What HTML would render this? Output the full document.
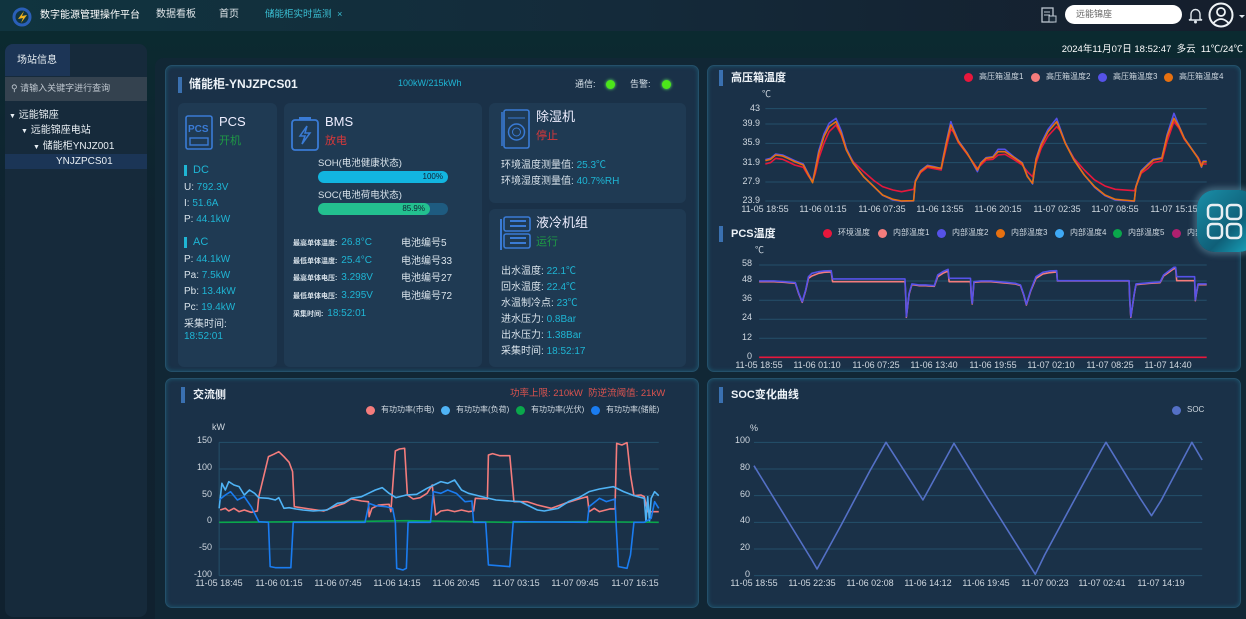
<!DOCTYPE html>
<html><head><meta charset="utf-8">
<style>
*{margin:0;padding:0;box-sizing:border-box}
body{width:1246px;height:619px;overflow:hidden;background:#0d2430;font-family:"Liberation Sans","Noto Sans CJK SC",sans-serif;color:#d8e2ea;font-size:10px;position:relative;line-height:1.1}
.a{position:absolute;white-space:nowrap}
.top{left:0;top:0;width:1246px;height:31px;background:linear-gradient(90deg,#10343f,#142a3a 50%,#151e2c)}
.bg2{left:0;top:31px;width:1246px;height:588px;background:linear-gradient(180deg,#0b2a30,#0f2330 30%,#10212f)}
.panel{background:#1a3148;border:1px solid #24506a;border-radius:7px;box-shadow:0 0 4px #1c5870 inset}
.card{background:#1f3a53;border-radius:6px}
.bar{width:4px;background:#3a70b0}
.t{font-weight:bold;color:#eef3f8;font-size:12px}
.c{color:#1fb5d4}
.dot{width:9px;height:9px;border-radius:50%}
.lg{font-size:8px;color:#cfd8e0}
.ax{font-size:9px;color:#d0d8e0}
.xl{font-size:9px;color:#d0d8e0;width:70px;text-align:center;margin-left:-35px}
</style></head><body>
<div class="a top"></div>
<div class="a bg2"></div>
<!-- top bar -->
<svg class="a" style="left:12px;top:7px" width="22" height="20"><ellipse cx="10" cy="10" rx="8" ry="8" fill="none" stroke="#2a5fb8" stroke-width="3"/><path d="M6 12 L12 4 L10 9 L15 8 L9 16 L11 11Z" fill="#f0b21f"/></svg>
<div class="a" style="left:40px;top:10px;font-size:10px;color:#fff">数字能源管理操作平台</div>
<div class="a" style="left:156px;top:9px;font-size:10px;color:#e0e6ea">数据看板</div>
<div class="a" style="left:219px;top:9px;font-size:10px;color:#e0e6ea">首页</div>
<div class="a" style="left:265px;top:10px;font-size:9.5px;color:#3bc0d4">储能柜实时监测 <span style="font-size:9px;margin-left:3px">×</span></div>
<svg class="a" style="left:1040px;top:6px" width="18" height="18"><rect x="2" y="2" width="11" height="14" fill="none" stroke="#bcc6cf" stroke-width="1.3"/><line x1="4" y1="6" x2="10" y2="6" stroke="#bcc6cf"/><line x1="4" y1="9" x2="10" y2="9" stroke="#bcc6cf"/><rect x="9" y="10" width="7" height="6" fill="#1a2a38" stroke="#bcc6cf"/></svg>
<div class="a" style="left:1065px;top:5px;width:117px;height:19px;background:#fff;border-radius:10px;color:#666;font-size:9px;padding:5px 0 0 11px">远能锦座</div>
<svg class="a" style="left:1187px;top:6px" width="17" height="18"><path d="M4 13 L4 8 A4.5 4.5 0 0 1 13 8 L13 13 L15 14 L2 14Z" fill="none" stroke="#dfe6ec" stroke-width="1.4"/><circle cx="8.5" cy="16" r="1.5" fill="#dfe6ec"/></svg>
<svg class="a" style="left:1208px;top:2px" width="38" height="26"><circle cx="13" cy="13" r="11.5" fill="none" stroke="#eef2f5" stroke-width="2"/><circle cx="13" cy="10" r="4" fill="none" stroke="#eef2f5" stroke-width="1.8"/><path d="M5.5 21 Q13 13 20.5 21" fill="none" stroke="#eef2f5" stroke-width="1.8"/><path d="M31 13 L37 13 L34 16Z" fill="#dfe6ec"/></svg>
<div class="a" style="right:3px;top:45px;font-size:9.5px;color:#fff">2024年11月07日 18:52:47 &nbsp;多云 &nbsp;11℃/24℃</div>

<!-- sidebar -->
<div class="a" style="left:5px;top:44px;width:142px;height:573px;background:#162a3b;border-radius:8px"></div>
<div class="a" style="left:5px;top:44px;width:65px;height:32px;background:#1c3556;border-radius:8px 0 0 0;font-size:10px;color:#e8eef3;padding:11px 0 0 12px">场站信息</div>
<div class="a" style="left:5px;top:77px;width:142px;height:24px;background:#34424f;font-size:9px;color:#c0c8d0;padding:7px 0 0 6px">&#9906; 请输入关键字进行查询</div>
<div class="a" style="left:5px;top:154px;width:142px;height:15px;background:#1b3556"></div>
<div class="a" style="left:9px;top:110px;font-size:10px;color:#e8eef3"><span style="font-size:7px">▼</span> 远能锦座</div>
<div class="a" style="left:21px;top:125px;font-size:10px;color:#e8eef3"><span style="font-size:7px">▼</span> 远能锦座电站</div>
<div class="a" style="left:33px;top:141px;font-size:10px;color:#e8eef3"><span style="font-size:7px">▼</span> 储能柜YNJZ001</div>
<div class="a" style="left:56px;top:156px;font-size:10px;color:#e8eef3">YNJZPCS01</div>

<!-- main container -->
<div class="a" style="left:155px;top:58px;width:1091px;height:561px;background:#112735;border-radius:8px 0 0 0"></div>

<!-- panel 1 -->
<div class="a panel" style="left:165px;top:65px;width:534px;height:307px"></div>
<div class="a bar" style="left:178px;top:77px;height:16px"></div>
<div class="a t" style="left:189px;top:78px">储能柜-YNJZPCS01</div>
<div class="a c" style="left:398px;top:79px;font-size:9px">100kW/215kWh</div>
<div class="a" style="left:575px;top:80px;font-size:9px">通信:</div>
<div class="a dot" style="left:606px;top:80px;background:#4ce61a;box-shadow:0 0 3px #6f6"></div>
<div class="a" style="left:630px;top:80px;font-size:9px">告警:</div>
<div class="a dot" style="left:662px;top:80px;background:#4ce61a;box-shadow:0 0 3px #6f6"></div>

<div class="a card" style="left:178px;top:103px;width:99px;height:264px"></div>
<div class="a card" style="left:284px;top:103px;width:198px;height:264px"></div>
<div class="a card" style="left:489px;top:103px;width:197px;height:100px"></div>
<div class="a card" style="left:489px;top:209px;width:197px;height:158px"></div>

<!-- PCS -->
<svg class="a" style="left:185px;top:115px" width="29" height="36"><rect x="1" y="1" width="26" height="33" rx="2" fill="none" stroke="#3a7bd5" stroke-width="1.6"/><text x="3" y="17" font-size="10" font-weight="bold" fill="#3a7bd5" font-family="Liberation Sans">PCS</text><rect x="5" y="23" width="18" height="7" fill="none" stroke="#3a7bd5" stroke-width="1.4"/></svg>
<div class="a" style="left:219px;top:115px;font-size:13px;color:#eef">PCS</div>
<div class="a" style="left:219px;top:135px;font-size:11px;color:#1f9a45">开机</div>
<div class="a" style="left:184px;top:165px;width:3px;height:11px;background:#1fb5d4"></div>
<div class="a c" style="left:193px;top:164px;font-size:11px">DC</div>
<div class="a" style="left:184px;top:182px">U: <span class="c">792.3V</span></div>
<div class="a" style="left:184px;top:198px">I: <span class="c">51.6A</span></div>
<div class="a" style="left:184px;top:214px">P: <span class="c">44.1kW</span></div>
<div class="a" style="left:184px;top:237px;width:3px;height:11px;background:#1fb5d4"></div>
<div class="a c" style="left:193px;top:236px;font-size:11px">AC</div>
<div class="a" style="left:184px;top:254px">P: <span class="c">44.1kW</span></div>
<div class="a" style="left:184px;top:270px">Pa: <span class="c">7.5kW</span></div>
<div class="a" style="left:184px;top:286px">Pb: <span class="c">13.4kW</span></div>
<div class="a" style="left:184px;top:302px">Pc: <span class="c">19.4kW</span></div>
<div class="a" style="left:184px;top:319px">采集时间:</div>
<div class="a c" style="left:184px;top:331px">18:52:01</div>

<!-- BMS -->
<svg class="a" style="left:290px;top:116px" width="30" height="36"><rect x="2" y="4" width="26" height="30" rx="3" fill="none" stroke="#3a7bd5" stroke-width="1.8"/><rect x="9" y="1" width="12" height="3" fill="#3a7bd5"/><path d="M17 10 L10 20 L15 20 L12 28 L20 17 L15 17Z" fill="none" stroke="#3a7bd5" stroke-width="1.5"/></svg>
<div class="a" style="left:325px;top:115px;font-size:13px;color:#eef">BMS</div>
<div class="a" style="left:325px;top:135px;font-size:11px;color:#d9383a">放电</div>
<div class="a" style="left:318px;top:159px;font-size:9.5px">SOH(电池健康状态)</div>
<div class="a" style="left:318px;top:171px;width:130px;height:12px;border-radius:6px;background:#12b5e0;font-size:8px;color:#123;text-align:right;padding:2px 5px 0 0">100%</div>
<div class="a" style="left:318px;top:191px;font-size:9.5px">SOC(电池荷电状态)</div>
<div class="a" style="left:318px;top:203px;width:130px;height:12px;border-radius:6px;background:#1e5b80"></div>
<div class="a" style="left:318px;top:203px;width:112px;height:12px;border-radius:6px;background:#23c08f;font-size:8px;color:#123;text-align:right;padding:2px 5px 0 0">85.9%</div>
<div class="a" style="left:293px;top:237px;font-size:7px;font-weight:bold">最高单体温度: <span class="c" style="font-size:10px;font-weight:normal;margin-left:2px">26.8°C</span></div>
<div class="a" style="left:293px;top:255px;font-size:7px;font-weight:bold">最低单体温度: <span class="c" style="font-size:10px;font-weight:normal;margin-left:2px">25.4°C</span></div>
<div class="a" style="left:293px;top:272px;font-size:7px;font-weight:bold">最高单体电压: <span class="c" style="font-size:10px;font-weight:normal;margin-left:2px">3.298V</span></div>
<div class="a" style="left:293px;top:290px;font-size:7px;font-weight:bold">最低单体电压: <span class="c" style="font-size:10px;font-weight:normal;margin-left:2px">3.295V</span></div>
<div class="a" style="left:293px;top:308px;font-size:7px;font-weight:bold">采集时间: <span class="c" style="font-size:10px;font-weight:normal;margin-left:2px">18:52:01</span></div>
<div class="a" style="left:401px;top:238px">电池编号5</div>
<div class="a" style="left:401px;top:256px">电池编号33</div>
<div class="a" style="left:401px;top:273px">电池编号27</div>
<div class="a" style="left:401px;top:291px">电池编号72</div>

<!-- dehumidifier -->
<svg class="a" style="left:501px;top:108px" width="30" height="44"><rect x="3" y="2" width="25" height="38" rx="2" fill="none" stroke="#3a7bd5" stroke-width="1.6"/><line x1="1" y1="4" x2="1" y2="38" stroke="#3a7bd5" stroke-width="1.5"/><line x1="7" y1="10" x2="24" y2="10" stroke="#3a7bd5"/><circle cx="15.5" cy="24" r="8" fill="none" stroke="#3a7bd5" stroke-width="1.5"/><circle cx="15.5" cy="24" r="4" fill="none" stroke="#3a7bd5"/></svg>
<div class="a" style="left:536px;top:110px;font-size:13px;color:#eef">除湿机</div>
<div class="a" style="left:536px;top:130px;font-size:11px;color:#d9383a">停止</div>
<div class="a" style="left:501px;top:160px">环境温度测量值: <span class="c">25.3℃</span></div>
<div class="a" style="left:501px;top:176px">环境湿度测量值: <span class="c">40.7%RH</span></div>

<!-- liquid cooling -->
<svg class="a" style="left:500px;top:214px" width="34" height="40"><rect x="4" y="3" width="26" height="14" rx="2" fill="none" stroke="#3a7bd5" stroke-width="1.6"/><rect x="4" y="20" width="26" height="14" rx="2" fill="none" stroke="#3a7bd5" stroke-width="1.6"/><line x1="10" y1="7" x2="26" y2="7" stroke="#3a7bd5" stroke-width="2"/><line x1="10" y1="12" x2="26" y2="12" stroke="#3a7bd5" stroke-width="2"/><line x1="10" y1="24" x2="26" y2="24" stroke="#3a7bd5" stroke-width="2"/><line x1="10" y1="29" x2="26" y2="29" stroke="#3a7bd5" stroke-width="2"/><line x1="1" y1="5" x2="1" y2="36" stroke="#3a7bd5" stroke-width="2"/></svg>
<div class="a" style="left:536px;top:216px;font-size:13px;color:#eef">液冷机组</div>
<div class="a" style="left:536px;top:236px;font-size:11px;color:#1f9a45">运行</div>
<div class="a" style="left:501px;top:266px">出水温度: <span class="c">22.1℃</span></div>
<div class="a" style="left:501px;top:282px">回水温度: <span class="c">22.4℃</span></div>
<div class="a" style="left:501px;top:298px">水温制冷点: <span class="c">23℃</span></div>
<div class="a" style="left:501px;top:314px">进水压力: <span class="c">0.8Bar</span></div>
<div class="a" style="left:501px;top:330px">出水压力: <span class="c">1.38Bar</span></div>
<div class="a" style="left:501px;top:346px">采集时间: <span class="c">18:52:17</span></div>

<!-- panels 2-4 -->
<div class="a panel" style="left:707px;top:65px;width:534px;height:307px"></div>
<div class="a panel" style="left:165px;top:378px;width:534px;height:230px"></div>
<div class="a panel" style="left:707px;top:378px;width:534px;height:230px"></div>

<div class="a bar" style="left:719px;top:70px;height:16px"></div>
<div class="a t" style="left:731px;top:72px;font-size:11px">高压箱温度</div>
<div class="a bar" style="left:719px;top:226px;height:16px"></div>
<div class="a t" style="left:731px;top:228px;font-size:11px">PCS温度</div>
<div class="a bar" style="left:181px;top:387px;height:16px"></div>
<div class="a t" style="left:193px;top:389px;font-size:11px">交流侧</div>
<div class="a" style="left:510px;top:389px;font-size:9.5px;color:#d9534f">功率上限: 210kW &nbsp;防逆流阈值: 21kW</div>
<div class="a bar" style="left:719px;top:387px;height:16px"></div>
<div class="a t" style="left:731px;top:389px;font-size:11px">SOC变化曲线</div>

<!-- legends -->
<div class="a dot" style="left:964px;top:73px;background:#e8173c"></div><div class="a lg" style="left:979px;top:73px">高压箱温度1</div>
<div class="a dot" style="left:1031px;top:73px;background:#f47c7c"></div><div class="a lg" style="left:1046px;top:73px">高压箱温度2</div>
<div class="a dot" style="left:1098px;top:73px;background:#5652e8"></div><div class="a lg" style="left:1113px;top:73px">高压箱温度3</div>
<div class="a dot" style="left:1164px;top:73px;background:#e67010"></div><div class="a lg" style="left:1179px;top:73px">高压箱温度4</div>

<div class="a dot" style="left:823px;top:229px;background:#e8173c"></div><div class="a lg" style="left:838px;top:229px">环境温度</div>
<div class="a dot" style="left:878px;top:229px;background:#f47c7c"></div><div class="a lg" style="left:893px;top:229px">内部温度1</div>
<div class="a dot" style="left:937px;top:229px;background:#5652e8"></div><div class="a lg" style="left:952px;top:229px">内部温度2</div>
<div class="a dot" style="left:996px;top:229px;background:#e67010"></div><div class="a lg" style="left:1011px;top:229px">内部温度3</div>
<div class="a dot" style="left:1055px;top:229px;background:#3fa9f5"></div><div class="a lg" style="left:1070px;top:229px">内部温度4</div>
<div class="a dot" style="left:1113px;top:229px;background:#0aa74b"></div><div class="a lg" style="left:1128px;top:229px">内部温度5</div>
<div class="a dot" style="left:1172px;top:229px;background:#b0206f"></div><div class="a lg" style="left:1187px;top:229px">内部温度6</div>

<div class="a dot" style="left:366px;top:406px;background:#f47c7c"></div><div class="a lg" style="left:381px;top:406px">有功功率(市电)</div>
<div class="a dot" style="left:441px;top:406px;background:#4fb3f5"></div><div class="a lg" style="left:456px;top:406px">有功功率(负荷)</div>
<div class="a dot" style="left:516px;top:406px;background:#0aa74b"></div><div class="a lg" style="left:531px;top:406px">有功功率(光伏)</div>
<div class="a dot" style="left:591px;top:406px;background:#1a7cf0"></div><div class="a lg" style="left:606px;top:406px">有功功率(储能)</div>

<div class="a dot" style="left:1172px;top:406px;background:#5470c6"></div><div class="a lg" style="left:1187px;top:406px">SOC</div>

<!-- charts -->
<svg class="a" style="left:0;top:0" width="1246" height="619">
<style>.g{stroke:#24506a;stroke-width:1}.l{fill:none;stroke-width:1.6;vector-effect:non-scaling-stroke;stroke-linejoin:round}.gl{vector-effect:non-scaling-stroke}</style>
<g transform="translate(705,60) scale(0.3448,0.3333)">
<g class="g gl"><line x1="175" x2="1455" y1="146" y2="146" class="gl"/><line x1="175" x2="1455" y1="192" y2="192" class="gl"/><line x1="175" x2="1455" y1="250" y2="250" class="gl"/><line x1="175" x2="1455" y1="308" y2="308" class="gl"/><line x1="175" x2="1455" y1="366" y2="366" class="gl"/><line x1="175" x2="1455" y1="423" y2="423" class="gl"/></g>
<polyline class="l" stroke="#e8173c" points="175,312 190,308 205,295 225,298 240,305 260,315 285,322 300,348 312,365 320,340 330,295 345,250 360,215 380,195 395,225 410,270 430,305 460,335 490,362 515,380 545,390 570,395 605,388 610,365 625,338 645,322 665,326 685,330 690,305 700,262 713,208 720,215 735,248 760,282 790,325 800,315 815,300 835,298 850,285 870,283 895,298 920,315 935,335 950,350 960,310 975,265 995,228 1020,200 1030,212 1045,250 1070,295 1100,330 1130,360 1160,378 1190,388 1245,392 1250,380 1265,340 1285,325 1300,308 1325,303 1340,245 1360,185 1375,205 1390,238 1410,265 1430,292 1440,312 1455,312"/>
<polyline class="l" stroke="#5652e8" points="175,299 190,295 205,282 225,285 240,292 260,302 285,312 300,342 312,365 320,325 330,272 345,222 360,190 380,175 395,212 410,265 430,308 460,350 490,380 515,406 545,420 570,424 605,423 610,362 625,332 645,316 665,320 685,326 690,295 700,245 713,185 720,205 735,242 760,278 790,335 800,308 815,293 835,290 850,268 870,268 895,290 920,308 935,348 950,372 960,296 975,250 995,208 1020,175 1030,205 1045,248 1070,298 1100,345 1130,382 1160,407 1190,420 1245,424 1250,378 1265,332 1285,312 1300,298 1325,293 1340,225 1360,160 1375,198 1390,234 1410,264 1430,294 1440,322 1445,303 1455,303"/>
<polyline class="l" stroke="#e67010" points="175,302 190,298 205,285 225,288 240,295 260,305 285,315 300,345 312,368 320,330 330,280 345,230 360,200 380,185 395,220 410,270 430,310 460,350 490,380 515,405 545,418 570,423 605,422 610,365 625,335 645,318 665,322 685,325 690,300 700,250 713,195 720,210 735,245 760,280 790,330 800,310 815,295 835,292 850,275 870,275 895,292 920,310 935,350 950,370 960,300 975,255 995,215 1020,185 1030,210 1045,250 1070,300 1100,345 1130,380 1160,405 1190,418 1245,423 1250,380 1265,335 1285,315 1300,300 1325,295 1340,230 1360,175 1375,200 1390,235 1410,265 1430,295 1440,320 1445,305 1455,305"/>
</g>
<g transform="translate(705,60) scale(0.3448,0.3333)">
<line x1="157" x2="1455" y1="615" y2="615" class="g gl"/><line x1="157" x2="1455" y1="663" y2="663" class="g gl"/><line x1="157" x2="1455" y1="721" y2="721" class="g gl"/><line x1="157" x2="1455" y1="778" y2="778" class="g gl"/><line x1="157" x2="1455" y1="835" y2="835" class="g gl"/>
<polyline class="l" stroke="#f47c7c" points="157,665 200,665 230,667 262,670 272,702 282,727 292,692 300,655 310,648 330,640 345,637 366,636 370,665 580,665 582,705 584,772 592,702 600,674 620,677 640,677 665,679 675,650 690,640 705,633 708,665 770,665 772,705 775,732 780,667 800,665 830,665 860,668 900,672 915,677 925,707 932,735 945,692 960,655 980,642 1000,638 1020,636 1022,663 1230,663 1232,722 1235,772 1245,702 1250,674 1290,670 1320,668 1330,648 1345,637 1360,626 1365,626 1368,662 1420,662 1422,722 1425,702 1430,674 1455,674"/>
<polyline class="l" stroke="#5652e8" points="157,663 200,663 230,665 262,668 272,700 282,725 292,690 300,650 310,640 330,635 345,633 366,632 370,657 580,657 582,700 584,770 592,700 600,672 620,675 640,675 665,677 675,645 690,635 705,628 708,655 770,655 772,700 775,730 780,665 800,663 830,663 860,666 900,670 915,675 925,705 932,733 945,690 960,650 980,637 1000,633 1020,632 1022,662 1230,662 1232,720 1235,770 1245,700 1250,672 1290,668 1320,666 1330,645 1345,633 1360,622 1365,622 1368,650 1420,650 1422,720 1425,700 1430,672 1455,672"/>
<line x1="157" x2="1455" y1="892" y2="892" class="l" stroke="#e8173c"/>
</g>
<g transform="translate(165,375) scale(0.3448,0.3333)">
<line x1="157" x2="1432" y1="202" y2="202" class="g gl"/><line x1="157" x2="1432" y1="282" y2="282" class="g gl"/><line x1="157" x2="1432" y1="362" y2="362" class="g gl"/><line x1="157" x2="1432" y1="442" y2="442" class="g gl"/><line x1="157" x2="1432" y1="522" y2="522" class="g gl"/><line x1="157" x2="1432" y1="602" y2="602" class="g gl"/>
<line x1="157" x2="157" y1="202" y2="602" class="g gl"/>
<polyline class="l" stroke="#f47c7c" points="160,405 175,400 185,408 200,400 215,410 230,405 250,412 268,408 272,365 300,245 315,238 330,230 345,245 360,262 370,290 375,395 420,402 460,408 500,392 520,385 540,372 570,378 590,380 592,425 600,400 620,390 650,388 655,410 668,228 680,222 695,220 703,360 720,372 740,368 760,355 775,330 785,420 800,408 820,405 840,410 860,405 880,410 895,408 900,370 935,372 938,240 950,236 970,242 1000,242 1012,380 1050,380 1080,390 1120,400 1160,385 1200,372 1225,365 1230,410 1245,400 1260,410 1290,402 1305,402 1310,205 1325,210 1340,203 1350,300 1360,362 1380,360 1390,365 1400,410 1432,410"/>
<polyline class="l" stroke="#4fb3f5" points="157,400 165,325 175,345 185,320 200,330 215,335 230,360 245,345 260,355 272,368 300,370 320,375 330,368 345,400 360,398 380,402 400,405 430,408 470,405 500,385 520,382 540,370 570,365 590,355 610,345 630,338 650,355 670,368 700,360 730,358 760,340 780,330 800,320 820,325 840,315 860,345 880,355 900,360 930,368 960,375 1000,378 1030,380 1060,395 1080,405 1100,408 1140,400 1170,380 1200,368 1230,350 1260,342 1300,335 1330,350 1360,362 1390,370 1395,440 1400,365 1405,440 1410,370 1420,350 1432,362"/>
<polyline class="l" stroke="#0aa74b" points="157,442 580,439 700,437 1000,442 1200,440 1432,442"/>
<polyline class="l" stroke="#1a7cf0" points="157,375 175,360 190,350 210,375 230,365 250,395 272,440 300,442 305,575 320,578 365,578 372,442 580,442 592,385 610,392 640,395 660,400 668,442 672,580 690,585 700,580 705,442 770,442 778,350 800,355 820,345 845,355 870,380 890,378 895,442 930,442 938,570 1000,575 1010,440 1225,442 1230,395 1260,370 1280,380 1305,372 1308,440 1315,575 1340,580 1350,540 1360,442 1390,442 1410,430 1420,380 1432,400"/>
</g>
<g transform="translate(705,375) scale(0.3448,0.3333)">
<line x1="142" x2="1442" y1="202" y2="202" class="g gl"/><line x1="142" x2="1442" y1="282" y2="282" class="g gl"/><line x1="142" x2="1442" y1="362" y2="362" class="g gl"/><line x1="142" x2="1442" y1="442" y2="442" class="g gl"/><line x1="142" x2="1442" y1="522" y2="522" class="g gl"/><line x1="142" x2="1442" y1="602" y2="602" class="g gl"/>
<polyline class="l" stroke="#5470c6" points="142,272 310,555 325,582 395,450 478,288 525,202 632,375 648,345 722,205 815,362 958,598 985,540 1058,400 1150,225 1163,202 1262,370 1295,422 1322,378 1412,202 1442,255"/>
</g>
</svg>

<!-- axis labels -->
<div class="a ax" style="left:762px;top:90px">℃</div>
<div class="a ax" style="left:730px;top:104px;width:30px;text-align:right">43</div>
<div class="a ax" style="left:730px;top:119px;width:30px;text-align:right">39.9</div>
<div class="a ax" style="left:730px;top:138px;width:30px;text-align:right">35.9</div>
<div class="a ax" style="left:730px;top:158px;width:30px;text-align:right">31.9</div>
<div class="a ax" style="left:730px;top:177px;width:30px;text-align:right">27.9</div>
<div class="a ax" style="left:730px;top:196px;width:30px;text-align:right">23.9</div>
<div class="a xl" style="left:765px;top:205px">11-05 18:55</div>
<div class="a xl" style="left:823px;top:205px">11-06 01:15</div>
<div class="a xl" style="left:882px;top:205px">11-06 07:35</div>
<div class="a xl" style="left:940px;top:205px">11-06 13:55</div>
<div class="a xl" style="left:998px;top:205px">11-06 20:15</div>
<div class="a xl" style="left:1057px;top:205px">11-07 02:35</div>
<div class="a xl" style="left:1115px;top:205px">11-07 08:55</div>
<div class="a xl" style="left:1174px;top:205px">11-07 15:15</div>

<div class="a ax" style="left:755px;top:246px">℃</div>
<div class="a ax" style="left:722px;top:259px;width:30px;text-align:right">58</div>
<div class="a ax" style="left:722px;top:275px;width:30px;text-align:right">48</div>
<div class="a ax" style="left:722px;top:294px;width:30px;text-align:right">36</div>
<div class="a ax" style="left:722px;top:313px;width:30px;text-align:right">24</div>
<div class="a ax" style="left:722px;top:333px;width:30px;text-align:right">12</div>
<div class="a ax" style="left:722px;top:352px;width:30px;text-align:right">0</div>
<div class="a xl" style="left:759px;top:361px">11-05 18:55</div>
<div class="a xl" style="left:817px;top:361px">11-06 01:10</div>
<div class="a xl" style="left:876px;top:361px">11-06 07:25</div>
<div class="a xl" style="left:934px;top:361px">11-06 13:40</div>
<div class="a xl" style="left:993px;top:361px">11-06 19:55</div>
<div class="a xl" style="left:1051px;top:361px">11-07 02:10</div>
<div class="a xl" style="left:1110px;top:361px">11-07 08:25</div>
<div class="a xl" style="left:1168px;top:361px">11-07 14:40</div>

<div class="a ax" style="left:212px;top:423px">kW</div>
<div class="a ax" style="left:180px;top:436px;width:32px;text-align:right">150</div>
<div class="a ax" style="left:180px;top:463px;width:32px;text-align:right">100</div>
<div class="a ax" style="left:180px;top:490px;width:32px;text-align:right">50</div>
<div class="a ax" style="left:180px;top:516px;width:32px;text-align:right">0</div>
<div class="a ax" style="left:180px;top:543px;width:32px;text-align:right">-50</div>
<div class="a ax" style="left:180px;top:570px;width:32px;text-align:right">-100</div>
<div class="a xl" style="left:219px;top:579px">11-05 18:45</div>
<div class="a xl" style="left:279px;top:579px">11-06 01:15</div>
<div class="a xl" style="left:338px;top:579px">11-06 07:45</div>
<div class="a xl" style="left:397px;top:579px">11-06 14:15</div>
<div class="a xl" style="left:456px;top:579px">11-06 20:45</div>
<div class="a xl" style="left:516px;top:579px">11-07 03:15</div>
<div class="a xl" style="left:575px;top:579px">11-07 09:45</div>
<div class="a xl" style="left:635px;top:579px">11-07 16:15</div>

<div class="a ax" style="left:750px;top:424px">%</div>
<div class="a ax" style="left:720px;top:436px;width:30px;text-align:right">100</div>
<div class="a ax" style="left:720px;top:463px;width:30px;text-align:right">80</div>
<div class="a ax" style="left:720px;top:490px;width:30px;text-align:right">60</div>
<div class="a ax" style="left:720px;top:516px;width:30px;text-align:right">40</div>
<div class="a ax" style="left:720px;top:543px;width:30px;text-align:right">20</div>
<div class="a ax" style="left:720px;top:570px;width:30px;text-align:right">0</div>
<div class="a xl" style="left:754px;top:579px">11-05 18:55</div>
<div class="a xl" style="left:812px;top:579px">11-05 22:35</div>
<div class="a xl" style="left:870px;top:579px">11-06 02:08</div>
<div class="a xl" style="left:928px;top:579px">11-06 14:12</div>
<div class="a xl" style="left:986px;top:579px">11-06 19:45</div>
<div class="a xl" style="left:1045px;top:579px">11-07 00:23</div>
<div class="a xl" style="left:1102px;top:579px">11-07 02:41</div>
<div class="a xl" style="left:1161px;top:579px">11-07 14:19</div>

<!-- floating button -->
<div class="a" style="left:1197px;top:190px;width:60px;height:62px;border-radius:18px;background:linear-gradient(135deg,#1a8fa8,#0f5f78 60%,#1ab0c8);box-shadow:0 0 6px 3px rgba(120,170,190,.4)"></div>
<svg class="a" style="left:1206px;top:203px" width="38" height="38"><g fill="none" stroke="#e8eef2" stroke-width="2.5"><rect x="2" y="2" width="14" height="14" rx="4"/><rect x="21" y="2" width="14" height="14" rx="4"/><rect x="2" y="21" width="14" height="14" rx="4"/><rect x="21" y="21" width="14" height="14" rx="4"/></g></svg>
</body></html>
